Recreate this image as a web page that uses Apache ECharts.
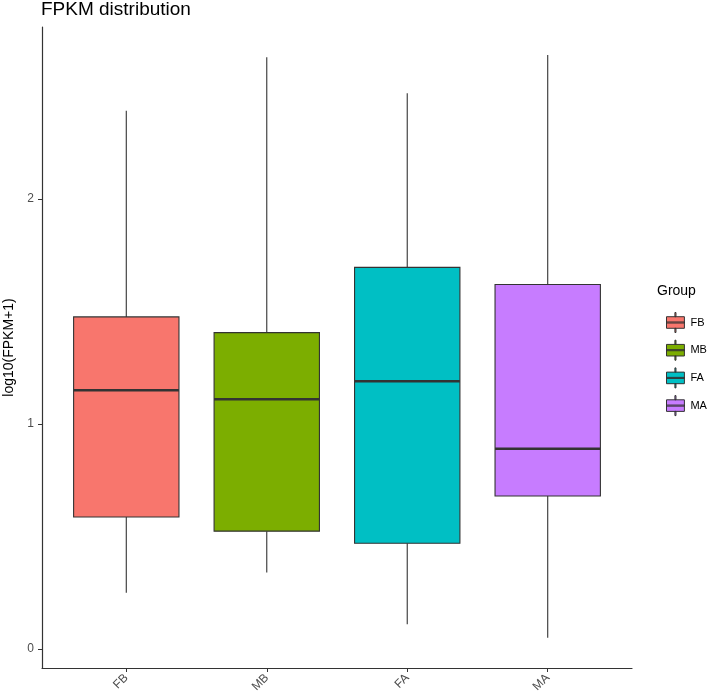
<!DOCTYPE html>
<html>
<head>
<meta charset="utf-8">
<script src="https://cdn.jsdelivr.net/npm/echarts@6/dist/echarts.min.js"></script>
<style>html,body{margin:0;padding:0;background:#fff}#c{width:709px;height:696px}</style>
</head>
<body>
<div id="c"></div>
<script>
// ---- data ----
const categories = ['FB', 'MB', 'FA', 'MA'];
const colors = ['#F8766D', '#7CAE00', '#00BFC4', '#C77CFF'];
// [min, Q1, median, Q3, max]
const FB = [0.25, 0.587, 1.15, 1.476, 2.392];
const MB = [0.34, 0.524, 1.11, 1.406, 2.63];
const FA = [0.11, 0.47, 1.19, 1.696, 2.47];
const MA = [0.05, 0.68, 0.89, 1.62, 2.64];
const yTicks = [0, 1, 2];
const yMin = -0.084, yMax = 2.764;

const groups = [FB, MB, FA, MA];
const chart = echarts.init(document.getElementById('c'), null, {renderer: 'canvas'});
const keyIcon = 'path://M0,4 L17,4 L17,15 L0,15 Z M0,9 L17,9 L17,10 L0,10 Z M8,0 L9,0 L9,4 L8,4 Z M8,15 L9,15 L9,19 L8,19 Z';

const gLeft = 42, gWidth = 590;
const unit = gWidth / 4.2;

function renderBox(params, api) {
  const x = api.value(0);
  const vMin = api.coord([x, api.value(1)]);
  const vQ1 = api.coord([x, api.value(2)]);
  const vMed = api.coord([x, api.value(3)]);
  const vQ3 = api.coord([x, api.value(4)]);
  const vMax = api.coord([x, api.value(5)]);
  const bw = api.size([1, 0])[0] * 0.75;
  const cx = vMed[0];
  const stroke = {stroke: '#333', lineWidth: 1.1};
  return {
    type: 'group',
    children: [
      {type: 'line', shape: {x1: cx, y1: vMax[1], x2: cx, y2: vQ3[1]}, style: stroke},
      {type: 'line', shape: {x1: cx, y1: vQ1[1], x2: cx, y2: vMin[1]}, style: stroke},
      {type: 'rect', shape: {x: cx - bw / 2, y: vQ3[1], width: bw, height: vQ1[1] - vQ3[1]},
       style: {fill: api.visual('color'), stroke: '#333', lineWidth: 1.1}},
      {type: 'line', shape: {x1: cx - bw / 2, y1: vMed[1], x2: cx + bw / 2, y2: vMed[1]},
       style: {stroke: '#333', lineWidth: 2.6}}
    ]
  };
}

chart.setOption({
  animation: false,
  backgroundColor: '#fff',
  title: [
    {text: 'FPKM distribution', left: 41, top: 0, padding: 0,
     textStyle: {fontSize: 19, fontWeight: 'normal', color: '#000', fontFamily: 'Liberation Sans'}},
    {text: 'Group', left: 657, top: 284, padding: 0,
     textStyle: {fontSize: 14, fontWeight: 'normal', color: '#000', fontFamily: 'Liberation Sans'}}
  ],
  legend: {
    orient: 'vertical', left: 661, top: 307,
    itemWidth: 20, itemHeight: 20, itemGap: 6.7,
    textStyle: {fontSize: 11, color: '#000', fontFamily: 'Liberation Sans', padding: [0, 0, 0, 0]},
    itemStyle: {borderColor: '#333', borderWidth: 1},
    data: categories.map(c => ({name: c, icon: keyIcon}))
  },
  grid: [
    {left: gLeft, top: 27, width: gWidth, height: 641, outerBoundsMode: 'none', containLabel: false},
    {left: gLeft + 0.1 * unit, top: 27, width: 4 * unit, height: 641, outerBoundsMode: 'none', containLabel: false}
  ],
  xAxis: [
    {gridIndex: 0, type: 'value', min: 0.4, max: 4.6,
     axisLine: {show: true, onZero: false, lineStyle: {color: '#333', width: 1.2}},
     axisTick: {show: false}, axisLabel: {show: false}, splitLine: {show: false}},
    {gridIndex: 1, type: 'category', data: categories, boundaryGap: true,
     axisLine: {show: false, onZero: false},
     axisTick: {show: true, alignWithLabel: true, length: 4, lineStyle: {color: '#333'}},
     axisLabel: {rotate: 45, fontSize: 12, color: '#4D4D4D', margin: 8, fontFamily: 'Liberation Sans'},
     splitLine: {show: false}}
  ],
  yAxis: [
    {gridIndex: 0, type: 'value', min: yMin, max: yMax,
     name: 'log10(FPKM+1)', nameLocation: 'middle', nameGap: 23,
     nameTextStyle: {fontSize: 14, color: '#000', fontFamily: 'Liberation Sans'},
     axisLine: {show: true, onZero: false, lineStyle: {color: '#333', width: 1.2}},
     axisTick: {show: true, length: 4, customValues: yTicks, lineStyle: {color: '#333'}},
     axisLabel: {fontSize: 12, color: '#4D4D4D', margin: 8, customValues: yTicks, fontFamily: 'Liberation Sans'},
     splitLine: {show: false}},
    {gridIndex: 1, type: 'value', min: yMin, max: yMax, show: false, splitLine: {show: false}}
  ],
  series: categories.map((c, i) => ({
    name: c, type: 'custom', xAxisIndex: 1, yAxisIndex: 1,
    renderItem: renderBox,
    itemStyle: {color: colors[i]},
    encode: {x: 0, y: [1, 2, 3, 4, 5]},
    data: [[i].concat(groups[i])]
  }))
});
</script>
</body>
</html>
